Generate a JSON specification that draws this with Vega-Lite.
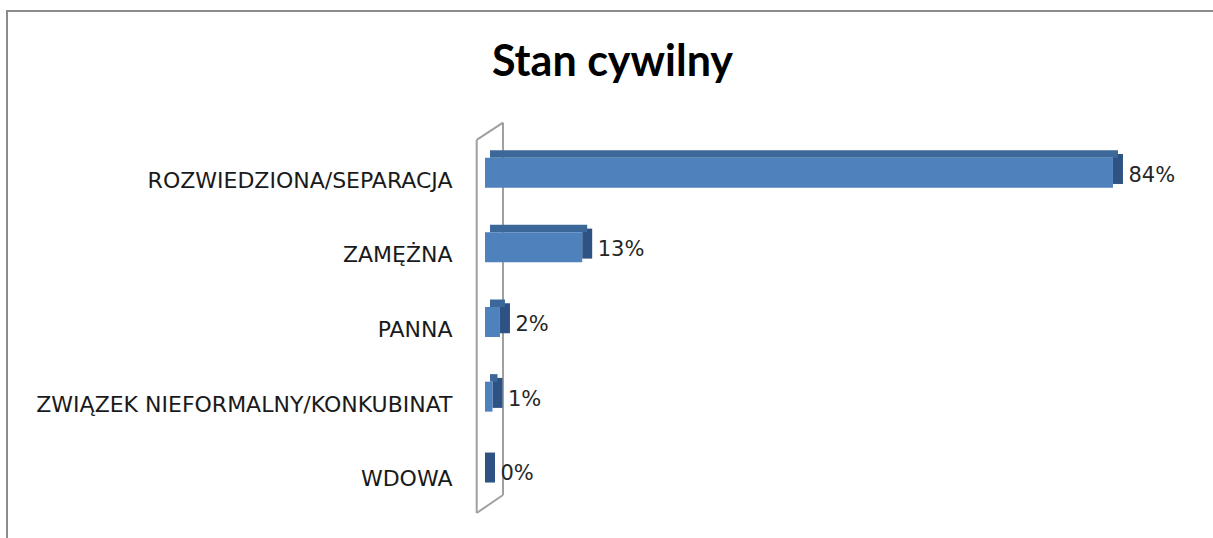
{
  "$schema": "https://vega.github.io/schema/vega-lite/v6.json",
  "autosize": {"type": "none"},
  "padding": {"left": 7, "top": 11, "right": -5, "bottom": -5},
  "width": 1211,
  "height": 532,
  "background": "white",
  "config": {"view": {"stroke": "#8c8c8c", "strokeWidth": 2}},
  "title": {"text": "Stan cywilny", "font": "Lato", "fontSize": 43, "fontWeight": "bold", "color": "#000000", "anchor": "middle", "offset": -108, "baseline": "alphabetic"},
  "data": {"values": [
    {"category": "ROZWIEDZIONA/SEPARACJA", "value": 0.84},
    {"category": "ZAMĘŻNA", "value": 0.13},
    {"category": "PANNA", "value": 0.02},
    {"category": "ZWIĄZEK NIEFORMALNY/KONKUBINAT", "value": 0.01},
    {"category": "WDOWA", "value": 0.0}
  ]},
  "layer": [
    {
      "data": {"values": [{}]},
      "encoding": {
        "x": {"datum": 0, "type": "quantitative", "scale": {"domain": [-0.6394, 0.9805], "nice": false, "zero": false}, "axis": null}
      },
      "layer": [
        {"mark": {"type": "rule", "color": "#a0a0a0", "strokeWidth": 2, "xOffset": -8.3, "y2Offset": 17.3},
         "encoding": {"y": {"datum": 0, "type": "quantitative", "scale": {"domain": [-0.0769, 1.286], "nice": false, "zero": false}, "axis": null}, "y2": {"datum": 1}}},
        {"mark": {"type": "rule", "color": "#a0a0a0", "strokeWidth": 2, "xOffset": 18, "yOffset": -18},
         "encoding": {"y": {"datum": 0, "type": "quantitative", "scale": {"domain": [-0.0769, 1.286], "nice": false, "zero": false}, "axis": null}, "y2": {"datum": 1}}},
        {"mark": {"type": "rule", "color": "#a0a0a0", "strokeWidth": 2, "xOffset": -8.3, "x2Offset": 18, "yOffset": 17.3},
         "encoding": {"x2": {"datum": 0}, "y": {"datum": 1, "type": "quantitative", "scale": {"domain": [-0.0769, 1.286], "nice": false, "zero": false}, "axis": null}, "y2": {"datum": 1}}},
        {"mark": {"type": "rule", "color": "#a0a0a0", "strokeWidth": 2, "xOffset": -8.3, "x2Offset": 18, "y2Offset": -18},
         "encoding": {"x2": {"datum": 0}, "y": {"datum": 0, "type": "quantitative", "scale": {"domain": [-0.0769, 1.286], "nice": false, "zero": false}, "axis": null}, "y2": {"datum": 0}}}
      ]
    },
    {
      "encoding": {
        "y": {"field": "category", "type": "nominal", "sort": null,
              "scale": {"range": [124.4, 497.6], "paddingInner": 0, "paddingOuter": 0},
              "axis": {"title": null, "domain": false, "ticks": false, "offset": -478, "labelPadding": 33, "labelOffset": 8, "labelFont": "DejaVu Sans", "labelFontSize": 22, "labelColor": "#1a1a1a", "labelLimit": 0}}
      },
      "layer": [
        {"mark": {"type": "bar", "color": "#2e5283", "x2Offset": 10, "height": 30, "yOffset": -3.75},
         "encoding": {"x": {"field": "value", "type": "quantitative", "scale": {"domain": [-0.6394, 0.9805], "nice": false, "zero": false}, "axis": null}, "x2": {"field": "value"}}},
        {"mark": {"type": "bar", "color": "#3c6899", "xOffset": 5, "x2Offset": 5, "height": 7.5, "yOffset": -18.75},
         "encoding": {"x": {"field": "value", "type": "quantitative", "scale": {"domain": [-0.6394, 0.9805], "nice": false, "zero": false}, "axis": null}}},
        {"mark": {"type": "bar", "color": "#4f81bd", "height": 30},
         "encoding": {"x": {"field": "value", "type": "quantitative", "scale": {"domain": [-0.6394, 0.9805], "nice": false, "zero": false}, "axis": null}}},
        {"mark": {"type": "text", "align": "left", "baseline": "middle", "dx": 15.5, "dy": 3, "font": "DejaVu Sans", "fontSize": 21, "color": "#262626"},
         "encoding": {"x": {"field": "value", "type": "quantitative", "scale": {"domain": [-0.6394, 0.9805], "nice": false, "zero": false}, "axis": null},
                      "text": {"field": "value", "type": "quantitative", "format": ".0%"}}}
      ]
    }
  ],
  "resolve": {"scale": {"y": "independent"}}
}
